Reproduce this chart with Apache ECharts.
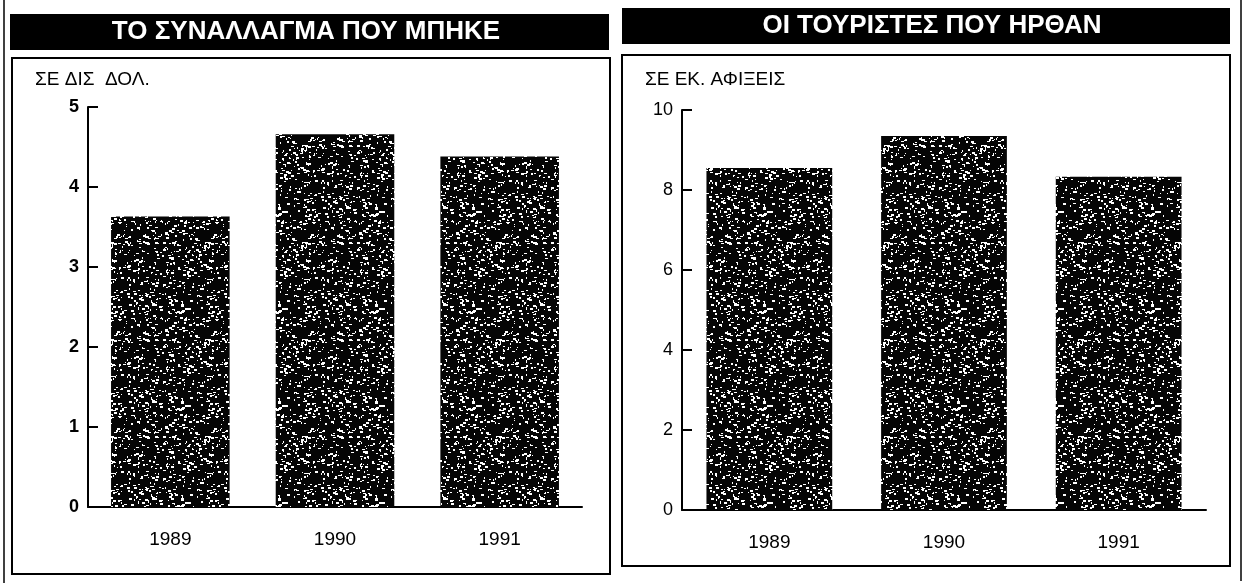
<!DOCTYPE html>
<html>
<head>
<meta charset="utf-8">
<script src="https://cdn.jsdelivr.net/npm/echarts@6/dist/echarts.min.js"></script>
<style>
    html, body { margin: 0; padding: 0; background: #fff; }
    #main { width: 1246px; height: 583px; }
</style>
</head>
<body>
<div id="main"></div>
<script>
// data
var years = ['1989', '1990', '1991'];
var currency = [3.63, 4.66, 4.38];      // σε δισ. δολ.
var tourists = [8.55, 9.35, 8.33];      // σε εκ. αφίξεις
var currencyTicks = [0, 5, 1];          // min, max, interval
var touristTicks = [0, 10, 2];

// μαύρο μοτίβο με λευκές κουκκίδες (όψη φωτοτυπίας)
function speckle() {
    var c = document.createElement('canvas');
    c.width = 97; c.height = 97;
    var ctx = c.getContext('2d');
    ctx.fillStyle = '#050505';
    ctx.fillRect(0, 0, 97, 97);
    ctx.fillStyle = '#ffffff';
    var s = 4242;
    function next(m) {
        s = (s * 1103515245 + 12345) % 2147483648;
        return Math.floor(s / 65536) % m;
    }
    for (var i = 0; i < 520; i++) {
        var x = next(97), y = next(97);
        ctx.fillRect(x, y, 1 + next(3), 1 + next(2));
    }
    return c;
}
var pattern = { image: speckle(), repeat: 'repeat' };

var axisCol = '#000';
var font = '"Liberation Sans", Arial, sans-serif';

function xAxisOf(idx) {
    return {
        type: 'category', gridIndex: idx, data: years,
        axisLine: { lineStyle: { color: axisCol, width: 2 } },
        axisTick: { inside: true, length: 11, lineStyle: { color: axisCol, width: 2 } },
        axisLabel: { color: '#000', fontSize: 19, fontFamily: font, margin: 23 }
    };
}
function yAxisOf(idx, t, weight) {
    return {
        type: 'value', gridIndex: idx, min: t[0], max: t[1], interval: t[2],
        splitLine: { show: false },
        axisLine: { show: true, lineStyle: { color: axisCol, width: 2 } },
        axisTick: { show: true, inside: true, length: 10, lineStyle: { color: axisCol, width: 2 } },
        axisLabel: { color: '#000', fontSize: 18, fontWeight: weight, fontFamily: font, margin: 9 }
    };
}

var option = {
    backgroundColor: '#fff',
    animation: false,
    grid: [
        { left: 88, top: 107, width: 494, height: 400 },
        { left: 682, top: 110, width: 524, height: 400 }
    ],
    xAxis: [xAxisOf(0), xAxisOf(1)],
    yAxis: [yAxisOf(0, currencyTicks, 'bold'), yAxisOf(1, touristTicks, 'normal')],
    series: [
        { type: 'bar', xAxisIndex: 0, yAxisIndex: 0, data: currency, barCategoryGap: '28%',
          itemStyle: { color: pattern } },
        { type: 'bar', xAxisIndex: 1, yAxisIndex: 1, data: tourists, barCategoryGap: '28%',
          itemStyle: { color: pattern } }
    ],
    graphic: [
        // άκρα σελίδας
        { type: 'line', shape: { x1: 4, y1: 0, x2: 4, y2: 583 }, style: { stroke: '#000', lineWidth: 1.5 } },
        { type: 'line', shape: { x1: 1241, y1: 0, x2: 1241, y2: 581 }, style: { stroke: '#000', lineWidth: 1.5 } },
        // κεφαλίδες
        { type: 'rect', shape: { x: 10, y: 14, width: 599, height: 36 }, style: { fill: '#000' } },
        { type: 'rect', shape: { x: 622, y: 8, width: 608, height: 36 }, style: { fill: '#000' } },
        { type: 'text', x: 306, y: 32, style: { text: 'ΤΟ ΣΥΝΑΛΛΑΓΜΑ ΠΟΥ ΜΠΗΚΕ', fill: '#fff',
            font: 'bold 26px ' + font, align: 'center', verticalAlign: 'middle' } },
        { type: 'text', x: 932, y: 26, style: { text: 'ΟΙ ΤΟΥΡΙΣΤΕΣ ΠΟΥ ΗΡΘΑΝ', fill: '#fff',
            font: 'bold 26px ' + font, align: 'center', verticalAlign: 'middle' } },
        // πλαίσια
        { type: 'rect', shape: { x: 12, y: 58, width: 598, height: 516 },
          style: { fill: 'none', stroke: '#000', lineWidth: 2 } },
        { type: 'rect', shape: { x: 622, y: 55, width: 608, height: 511 },
          style: { fill: 'none', stroke: '#000', lineWidth: 2 } },
        // μονάδες
        { type: 'text', x: 35, y: 80, style: { text: 'ΣΕ ΔΙΣ  ΔΟΛ.', fill: '#000',
            font: '19px ' + font, verticalAlign: 'middle' } },
        { type: 'text', x: 645, y: 80, style: { text: 'ΣΕ ΕΚ. ΑΦΙΞΕΙΣ', fill: '#000',
            font: '19px ' + font, verticalAlign: 'middle' } }
    ]
};

var myChart = echarts.init(document.getElementById('main'));
myChart.setOption(option);
</script>
</body>
</html>
